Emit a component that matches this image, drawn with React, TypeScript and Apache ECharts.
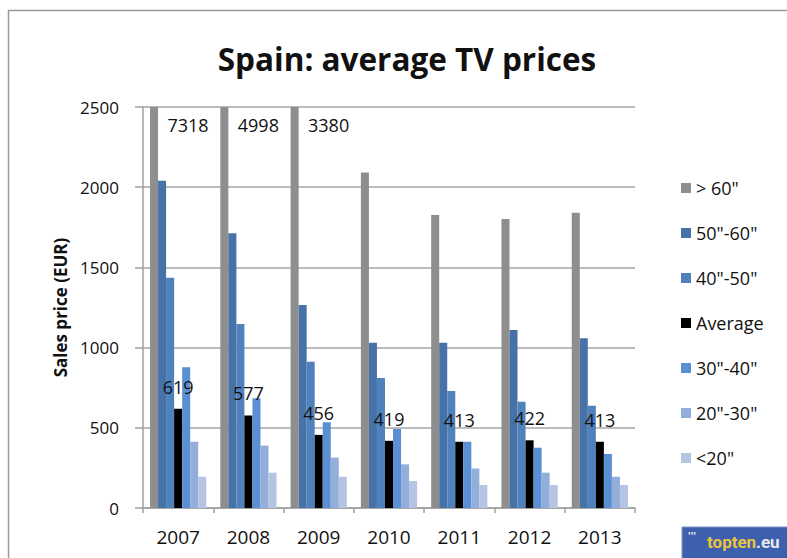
import React, { useEffect, useRef } from "react";
import * as echarts from "echarts";

const years = ["2007", "2008", "2009", "2010", "2011", "2012", "2013"];
const seriesNames = ['> 60"', '50"-60"', '40"-50"', "Average", '30"-40"', '20"-30"', '<20"'];
const over60 = [7318, 4998, 3380, 2091, 1827, 1802, 1841];
const s50to60 = [2040, 1713, 1266, 1031, 1031, 1110, 1058];
const s40to50 = [1436, 1147, 912, 810, 729, 663, 638];
const average = [619, 577, 456, 419, 413, 422, 413];
const s30to40 = [877, 684, 534, 493, 413, 376, 337];
const s20to30 = [413, 389, 314, 272, 247, 220, 195];
const under20 = [195, 220, 195, 168, 143, 143, 143];
const yTicks = [0, 500, 1000, 1500, 2000, 2500];
const colors = ["#8e8e8e", "#4672a8", "#4f81bd", "#000000", "#5a8fd3", "#93aedb", "#b4c4e2"];

const FONT = "'Open Sans', 'Liberation Sans', sans-serif";
const Y_MAX = yTicks[yTicks.length - 1];

export default function App() {
  const ref = useRef<HTMLDivElement>(null);
  useEffect(() => {
    document.body.style.margin = "0";
    const chart = echarts.init(ref.current!, null, { renderer: "svg" });
    const allData = [over60, s50to60, s40to50, average, s30to40, s20to30, under20];
    const series = allData.map((d, i) => {
      const base: any = {
        name: seriesNames[i],
        type: "bar",
        barGap: "0%",
        barCategoryGap: "20%",
        clip: true,
        itemStyle: { color: colors[i] },
        data: d.map((v) => ({ value: v })),
      };
      if (i === 0) {
        base.data = d.map((v) => ({
          value: v,
          label: {
            show: v > Y_MAX,
            position: "insideTop",
            offset: [34, 4],
            color: "#111",
            fontFamily: FONT,
            fontSize: 18,
            formatter: String(v),
          },
        }));
      }
      if (i === 3) {
        base.label = {
          show: true,
          position: "top",
          distance: 13,
          color: "#111",
          fontFamily: FONT,
          fontSize: 18,
        };
      }
      return base;
    });
    chart.setOption({
      animation: false,
      backgroundColor: "#ffffff",
      title: {
        text: "Spain: average TV prices",
        left: 402,
        top: 37,
        textAlign: "center",
        textStyle: { fontFamily: FONT, fontSize: 31.5, fontWeight: "bold", color: "#111" },
      },
      grid: { left: 143, right: 152, top: 107, bottom: 50 },
      legend: {
        orient: "vertical",
        left: 676,
        top: 174,
        itemWidth: 10,
        itemHeight: 10,
        itemGap: 27,
        icon: "rect",
        data: seriesNames,
        textStyle: { fontFamily: FONT, fontSize: 18, color: "#111" },
      },
      xAxis: {
        type: "category",
        data: years,
        axisLine: { lineStyle: { color: "#a0a0a0", width: 1.5 } },
        axisTick: { show: true, length: 5, lineStyle: { color: "#a0a0a0", width: 1.5 } },
        axisLabel: { fontFamily: FONT, fontSize: 19, color: "#111", margin: 19 },
      },
      yAxis: {
        type: "value",
        min: 0,
        max: Y_MAX,
        interval: 500,
        name: "Sales price (EUR)",
        nameLocation: "middle",
        nameGap: 72,
        nameTextStyle: { fontFamily: FONT, fontSize: 17, fontWeight: "bold", color: "#111" },
        axisLine: { show: true, lineStyle: { color: "#a0a0a0", width: 1.5 } },
        axisTick: { show: true, length: 8, lineStyle: { color: "#a0a0a0", width: 1.5 } },
        axisLabel: {
          fontFamily: FONT,
          fontSize: 17,
          color: "#111",
          margin: 24,
          formatter: (v: number) => String(v),
        },
        splitLine: { lineStyle: { color: "#a6a6a6", width: 1.5 } },
      },
      graphic: [
        {
          type: "rect",
          shape: { x: 8.5, y: 10.5, width: 820, height: 600 },
          style: { fill: "none", stroke: "#9a9a9a", lineWidth: 1.5 },
          silent: true,
        },
        {
          type: "rect",
          shape: { x: 682, y: 527, width: 120, height: 40 },
          style: { fill: "#3c5fae", stroke: "#7d95cc", lineWidth: 1 },
          silent: true,
        },
        {
          type: "text",
          x: 688,
          y: 531,
          style: { text: "'''", fill: "#f3f3f3", fontSize: 10, fontWeight: "bold", fontFamily: FONT },
          silent: true,
        },
        {
          type: "text",
          x: 707,
          y: 533,
          style: {
            text: "topten",
            fill: "#e9c43f",
            fontSize: 17,
            fontWeight: "bold",
            fontFamily: "'Liberation Sans Narrow', 'Roboto', sans-serif",
          },
          silent: true,
        },
        {
          type: "text",
          x: 756,
          y: 533,
          style: {
            text: ".eu",
            fill: "#e8e8e8",
            fontSize: 17,
            fontWeight: "bold",
            fontFamily: "'Liberation Sans Narrow', 'Roboto', sans-serif",
          },
          silent: true,
        },
      ],
      series,
    });
    return () => chart.dispose();
  }, []);
  return <div ref={ref} style={{ width: 787, height: 558 }} />;
}
